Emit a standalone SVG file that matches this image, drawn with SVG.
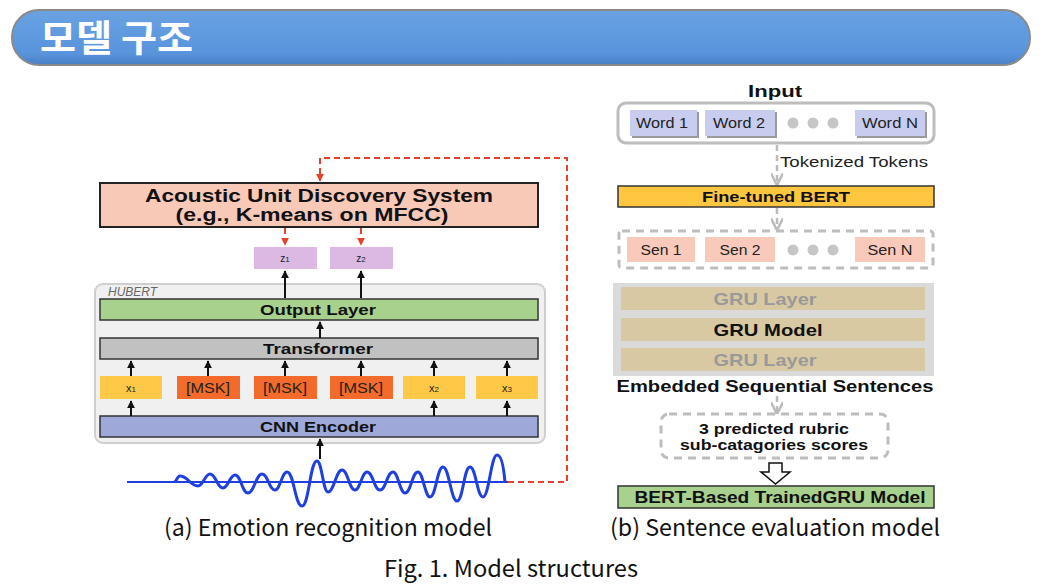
<svg xmlns="http://www.w3.org/2000/svg" width="1046" height="587" viewBox="0 0 1046 587">
<defs>
<linearGradient id="banner" x1="0" y1="0" x2="0" y2="1">
<stop offset="0" stop-color="#6aa2e2"/>
<stop offset="0.8" stop-color="#5893dc"/>
<stop offset="1" stop-color="#4a7fc4"/>
</linearGradient>
<marker id="ab" viewBox="0 0 10 10" refX="9" refY="5" markerWidth="4" markerHeight="4" orient="auto">
<path d="M0,0 L10,5 L0,10 z" fill="#111"/>
</marker>
<marker id="ar" viewBox="0 0 10 10" refX="9" refY="5" markerWidth="4" markerHeight="4" orient="auto">
<path d="M0,0 L10,5 L0,10 z" fill="#e8412a"/>
</marker>
<marker id="ag" viewBox="0 0 10 10" refX="9" refY="5" markerWidth="5" markerHeight="5" orient="auto">
<path d="M0,0 L10,5 L0,10" fill="none" stroke="#bbb" stroke-width="2"/>
</marker>
</defs>
<style>
.b{font-family:"Liberation Sans",Arial,sans-serif;font-weight:bold;fill:#111;text-anchor:middle}
.r{font-family:"Liberation Sans",Arial,sans-serif;fill:#222;text-anchor:middle}
.cap{font-family:"Noto Sans CJK KR","Noto Sans",sans-serif;font-size:23px;fill:#111;text-anchor:middle}
.box{stroke:#333;stroke-width:1.5}
.blk{stroke:#111;stroke-width:2;fill:none;marker-end:url(#ab)}
.red{stroke:#e8412a;stroke-width:2;fill:none;stroke-dasharray:6 4}
.gd{stroke:#bbb;stroke-width:2.5;fill:none;stroke-dasharray:6 4}
.tok{fill:#ffc846}
.msk{fill:#f26b2b}
.word{fill:#c8cdf0}
.sen{fill:#f9c9bc}
.dot{fill:#c6c6c6}
.gru{fill:#d8c9a3}
</style>

<g id="title">
<rect x="12" y="10" width="1018" height="55" rx="27" fill="url(#banner)" stroke="#8a8a8a" stroke-width="2"/>
<text x="40" y="52" font-family="Noto Sans CJK KR,sans-serif" font-weight="bold" font-size="37" fill="#fff" textLength="153" lengthAdjust="spacingAndGlyphs">모델 구조</text>
</g>

<!-- Left: Emotion recognition model -->
<g id="hubert">
<rect x="95" y="284" width="450" height="159" rx="8" fill="#f0f0f0" stroke="#cfcfcf" stroke-width="2"/>
<text x="108" y="296" font-family="Liberation Sans,Arial,sans-serif" font-style="italic" font-size="12" fill="#666">HUBERT</text>
</g>
<g id="acoustic">
<rect x="100" y="183" width="438" height="44" fill="#f9c9b8" stroke="#222" stroke-width="2"/>
<text class="b" x="319" y="202" font-size="18" textLength="348" lengthAdjust="spacingAndGlyphs">Acoustic Unit Discovery System</text>
<text class="b" x="312" y="221" font-size="18" textLength="273" lengthAdjust="spacingAndGlyphs">(e.g., K-means on MFCC)</text>
</g>
<g id="z1">
<rect x="254" y="247" width="63" height="22" fill="#dbb9e3"/>
<text class="r" x="285" y="262" font-size="10">z<tspan font-size="8">1</tspan></text>
</g>
<g id="z2">
<rect x="330" y="247" width="63" height="22" fill="#dbb9e3"/>
<text class="r" x="361" y="262" font-size="10">z<tspan font-size="8">2</tspan></text>
</g>
<g id="output-layer">
<rect class="box" x="100" y="299" width="438" height="21" fill="#a9d18e"/>
<text class="b" x="318" y="315" font-size="15" textLength="116" lengthAdjust="spacingAndGlyphs">Output Layer</text>
</g>
<g id="transformer">
<rect class="box" x="100" y="338" width="438" height="21" fill="#c1c1c1"/>
<text class="b" x="318" y="354" font-size="15" textLength="110" lengthAdjust="spacingAndGlyphs">Transformer</text>
</g>
<g id="x1"><rect class="tok" x="100" y="376" width="62" height="23"/><text class="r" x="131" y="392" font-size="11">x<tspan font-size="8">1</tspan></text></g>
<g id="msk1"><rect class="msk" x="177" y="376" width="63" height="23"/><text class="r" x="208" y="393" font-size="15" fill="#333" textLength="44" lengthAdjust="spacingAndGlyphs">[MSK]</text></g>
<g id="msk2"><rect class="msk" x="254" y="376" width="63" height="23"/><text class="r" x="285" y="393" font-size="15" fill="#333" textLength="44" lengthAdjust="spacingAndGlyphs">[MSK]</text></g>
<g id="msk3"><rect class="msk" x="330" y="376" width="63" height="23"/><text class="r" x="361" y="393" font-size="15" fill="#333" textLength="44" lengthAdjust="spacingAndGlyphs">[MSK]</text></g>
<g id="x2"><rect class="tok" x="403" y="376" width="62" height="23"/><text class="r" x="434" y="392" font-size="11">x<tspan font-size="8">2</tspan></text></g>
<g id="x3"><rect class="tok" x="476" y="376" width="62" height="23"/><text class="r" x="507" y="392" font-size="11">x<tspan font-size="8">3</tspan></text></g>
<g id="cnn">
<rect class="box" x="100" y="416" width="438" height="21" fill="#9ea8d9"/>
<text class="b" x="318" y="432" font-size="15" textLength="116" lengthAdjust="spacingAndGlyphs">CNN Encoder</text>
</g>
<g id="waveform">
<line x1="127" y1="482" x2="508" y2="482" stroke="#1f3fe0" stroke-width="2"/>
<path d="M175,482 C177,479 178,476 180,476 C188,476 190,486 198,486 C203,486 205,474 210,474 C216,474 217,488 223,488 C228,488 230,475 235,475 C241,475 242,493 248,493 C254,493 256,474 262,474 C268,474 269,490 275,490 C280,490 282,472 287,472 C294,472 295,506 302,506 C309,506 310,461 317,461 C322,461 323,492 328,492 C334,492 336,470 342,470 C348,470 349,490 355,490 C360,490 362,472 367,472 C373,472 374,490 380,490 C386,490 387,472 393,472 C398,472 400,493 405,493 C411,493 412,472 418,472 C423,472 425,497 430,497 C436,497 437,467 443,467 C449,467 451,501 457,501 C463,501 464,467 470,467 C476,467 477,497 483,497 C489,497 491,455 497,455 C502,455 504,470 505,483" fill="none" stroke="#1f3fe0" stroke-width="3"/>
</g>

<!-- Right: Sentence evaluation model -->
<text class="b" x="775" y="97" font-size="17" textLength="54" lengthAdjust="spacingAndGlyphs">Input</text>
<g id="input">
<rect x="618" y="103" width="316" height="40" rx="8" fill="#fff" stroke="#bdbdbd" stroke-width="3"/>
<rect x="632" y="112" width="67" height="26" fill="#9a9a9a"/>
<rect class="word" x="630" y="110" width="67" height="26"/>
<text class="r" x="662" y="128" font-size="15" textLength="52" lengthAdjust="spacingAndGlyphs">Word 1</text>
<rect x="707" y="112" width="70" height="26" fill="#9a9a9a"/>
<rect class="word" x="705" y="110" width="70" height="26"/>
<text class="r" x="739" y="128" font-size="15" textLength="52" lengthAdjust="spacingAndGlyphs">Word 2</text>
<circle class="dot" cx="793" cy="123" r="5.5"/><circle class="dot" cx="813" cy="123" r="5.5"/><circle class="dot" cx="833" cy="123" r="5.5"/>
<rect x="857" y="112" width="70" height="26" fill="#9a9a9a"/>
<rect class="word" x="855" y="110" width="70" height="26"/>
<text class="r" x="890" y="128" font-size="15" textLength="56" lengthAdjust="spacingAndGlyphs">Word N</text>
</g>
<g id="bert">
<rect class="box" x="618" y="186" width="316" height="21" fill="#ffc640"/>
<text class="b" x="776" y="202" font-size="15" textLength="148" lengthAdjust="spacingAndGlyphs">Fine-tuned BERT</text>
</g>
<g id="sentences">
<rect x="619" y="231" width="314" height="37" rx="3" fill="none" stroke="#bdbdbd" stroke-width="3" stroke-dasharray="8 6"/>
<rect class="sen" x="627" y="237" width="68" height="25"/>
<text class="r" x="661" y="255" font-size="15" textLength="41" lengthAdjust="spacingAndGlyphs">Sen 1</text>
<rect class="sen" x="705" y="237" width="70" height="25"/>
<text class="r" x="740" y="255" font-size="15" textLength="41" lengthAdjust="spacingAndGlyphs">Sen 2</text>
<circle class="dot" cx="793" cy="250" r="5.5"/><circle class="dot" cx="813" cy="250" r="5.5"/><circle class="dot" cx="833" cy="250" r="5.5"/>
<rect class="sen" x="855" y="237" width="70" height="25"/>
<text class="r" x="890" y="255" font-size="15" textLength="45" lengthAdjust="spacingAndGlyphs">Sen N</text>
</g>
<g id="gru">
<rect x="613" y="283" width="321" height="93" fill="#dadada"/>
<rect class="gru" x="621" y="287" width="304" height="23"/>
<text class="b" x="765" y="305" font-size="17" style="fill:#999" textLength="103" lengthAdjust="spacingAndGlyphs">GRU Layer</text>
<rect class="gru" x="621" y="318" width="304" height="23"/>
<text class="b" x="768" y="336" font-size="17" textLength="109" lengthAdjust="spacingAndGlyphs">GRU Model</text>
<rect class="gru" x="621" y="348" width="304" height="23"/>
<text class="b" x="765" y="366" font-size="17" style="fill:#999" textLength="103" lengthAdjust="spacingAndGlyphs">GRU Layer</text>
</g>
<text class="b" x="775" y="392" font-size="17" textLength="317" lengthAdjust="spacingAndGlyphs">Embedded Sequential Sentences</text>
<g id="scores">
<rect x="661" y="414" width="227" height="44" rx="8" fill="none" stroke="#bdbdbd" stroke-width="3" stroke-dasharray="8 6"/>
<text class="b" x="774" y="434" font-size="15" textLength="150" lengthAdjust="spacingAndGlyphs">3 predicted rubric</text>
<text class="b" x="774" y="450" font-size="15" textLength="188" lengthAdjust="spacingAndGlyphs">sub-catagories scores</text>
</g>
<g id="trained">
<rect class="box" x="618" y="486" width="316" height="22" fill="#a9d18e"/>
<text class="b" x="780" y="503" font-size="16" textLength="291" lengthAdjust="spacingAndGlyphs">BERT-Based TrainedGRU Model</text>
</g>

<g id="connectors">
<!-- red dashed -->
<path class="red" d="M508,482 H567 V158 H320 V181" marker-end="url(#ar)"/>
<path class="red" d="M285,228 V245" marker-end="url(#ar)"/>
<path class="red" d="M361,228 V245" marker-end="url(#ar)"/>
<!-- black -->
<path class="blk" d="M285,298 V271"/>
<path class="blk" d="M361,298 V271"/>
<path class="blk" d="M320,338 V322"/>
<path class="blk" d="M131,376 V361"/>
<path class="blk" d="M208,376 V361"/>
<path class="blk" d="M285,376 V361"/>
<path class="blk" d="M361,376 V361"/>
<path class="blk" d="M434,376 V361"/>
<path class="blk" d="M507,376 V361"/>
<path class="blk" d="M131,416 V401"/>
<path class="blk" d="M434,416 V401"/>
<path class="blk" d="M507,416 V401"/>
<path class="blk" d="M320,459 V439"/>
<!-- gray dashed -->
<path class="gd" d="M777,145 V184" marker-end="url(#ag)"/>
<path class="gd" d="M777,208 V229" marker-end="url(#ag)"/>
<path class="gd" d="M777,396 V413" marker-end="url(#ag)"/>
<!-- hollow arrow -->
<path d="M769,463 H782 V472 H790 L775.5,484 L761,472 H769 Z" fill="#fff" stroke="#111" stroke-width="1.5"/>
</g>
<text class="r" x="780" y="167" font-size="15" style="text-anchor:start" textLength="148" lengthAdjust="spacingAndGlyphs">Tokenized Tokens</text>

<text class="cap" x="328" y="536" textLength="328" lengthAdjust="spacingAndGlyphs">(a) Emotion recognition model</text>
<text class="cap" x="775" y="536" textLength="330" lengthAdjust="spacingAndGlyphs">(b) Sentence evaluation model</text>
<text class="cap" x="511" y="577" textLength="254" lengthAdjust="spacingAndGlyphs">Fig. 1. Model structures</text>
</svg>
